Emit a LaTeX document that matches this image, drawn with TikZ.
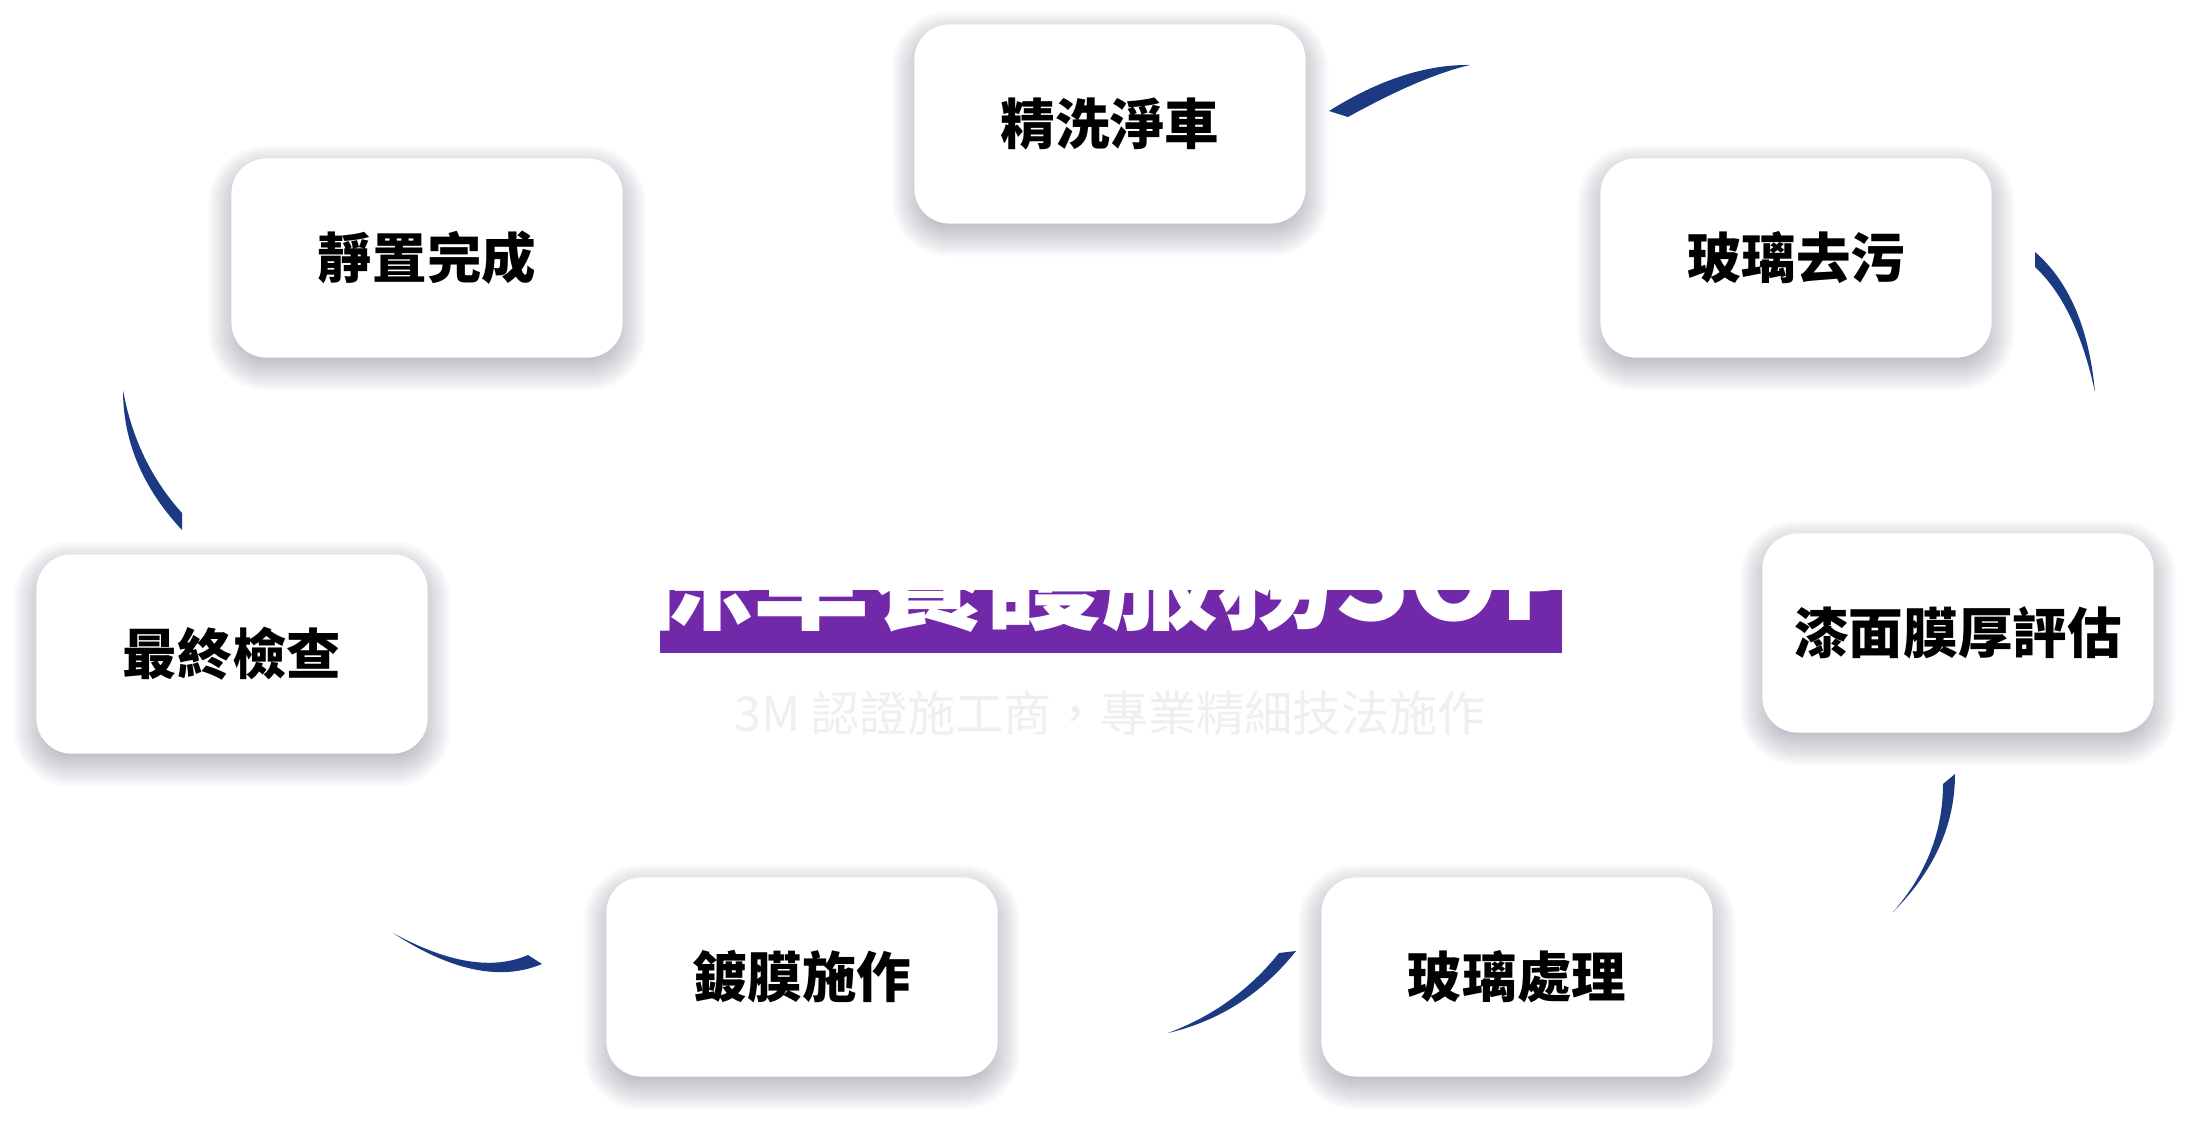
\documentclass[tikz,border=0pt]{standalone}
\usepackage{fontspec}
\setmainfont{Noto Sans CJK TC}
\usepackage{tikz}
\usetikzlibrary{positioning,calc}
\definecolor{swooshblue}{HTML}{1B3A82}
\definecolor{titlepurple}{HTML}{7129A9}
\definecolor{subgray}{HTML}{EFEFEF}
\definecolor{shadeink}{HTML}{2A2A4A}
\pgfdeclarelayer{bg}
\pgfdeclarelayer{shade}
\pgfsetlayers{bg,shade,main}
\newcommand{\swoosh}[5]{\fill[swooshblue] (#1) .. controls ($(#1)!2/3!(#4)$) and ($(#3)!2/3!(#4)$) .. (#3)
  .. controls ($(#3)!2/3!(#5)$) and ($(#2)!2/3!(#5)$) .. (#2) -- cycle;}
\newcommand{\softshadow}[1]{\foreach \e [evaluate=\e as \r using {max(0.35+\e*0.01,0.05)}] in {-8,-5,...,22}
  {\fill[shadeink, opacity=0.028, rounded corners=\r cm]
    ($(#1.south west)+(-\e,10+\e)$) rectangle ($(#1.north east)+(\e,10-\e)$);}}

\begin{document}
\begin{tikzpicture}
        [x=0.01cm, y=-0.01cm,
        stepbox/.style={fill=white, rounded corners=0.35cm,
        minimum width=3.91cm, minimum height=1.99cm,
        font=\fontsize{15.5}{18}\selectfont\bfseries}]
        \fill[titlepurple] (660,590) rectangle (1562,653);
        \node[anchor=base west, inner sep=0pt, text=white,
            font=\fontsize{33}{36}\selectfont\bfseries] (title) at (637,620) {保車養護服務SOP};
        \node[text=subgray, font=\fontsize{13.7}{16}\selectfont] (subtitle) at (1110,713)
            {3M 認證施工商，專業精細技法施作};
        \node[stepbox] (wash) at (1110,124) {精洗淨車};
        \node[stepbox] (glass) at (1796,258) {玻璃去污};
        \node[stepbox] (paint) at (1958,633) {漆面膜厚評估};
        \node[stepbox] (glasstreat) at (1517,977) {玻璃處理};
        \node[stepbox] (coat) at (802,977) {鍍膜施作};
        \node[stepbox] (check) at (232,654) {最終檢查};
        \node[stepbox] (cure) at (427,258) {靜置完成};
        \begin{pgfonlayer}{shade}
            \softshadow{wash} \softshadow{glass} \softshadow{paint} \softshadow{glasstreat}
            \softshadow{coat} \softshadow{check} \softshadow{cure}
        \end{pgfonlayer}
        \begin{pgfonlayer}{bg}
            \fill[white] (0,0) rectangle (2190,1124);
        \end{pgfonlayer}
        \useasboundingbox (0,0) rectangle (2190,1124);
        \swoosh{1329,111}{1348,117}{1470,65}{1404,64}{1422,76}
        \swoosh{2035,252}{2035,267}{2095,392}{2086,296}{2076,305}
        \swoosh{1955,774}{1943,784}{1893,912}{1955,850}{1943,855}
        \swoosh{1296,951}{1279,953}{1168,1033}{1245,1015}{1235,1008}
        \swoosh{528,955}{542,964}{393,933}{475,978}{480,990}
        \swoosh{182,513}{182,530}{123,390}{136,462}{123,467}
\end{tikzpicture}
\end{document}
